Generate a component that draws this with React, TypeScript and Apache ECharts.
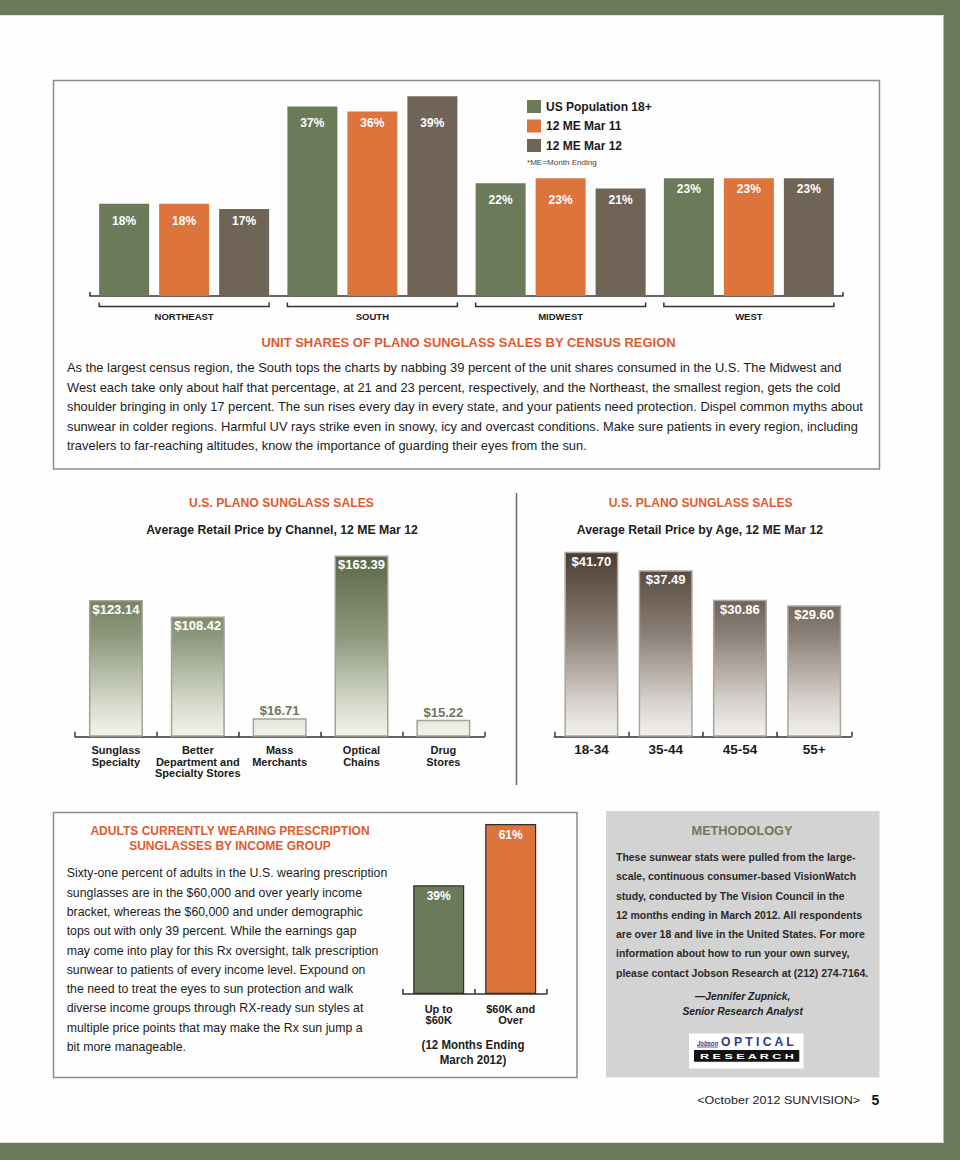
import React, { useEffect, useRef } from 'react';
import * as echarts from 'echarts';

// ---------- DATA ----------
const regions = ['NORTHEAST', 'SOUTH', 'MIDWEST', 'WEST'];
const seriesNames = ['US Population 18+', '12 ME Mar 11', '12 ME Mar 12'];
const usPopulation = [18, 37, 22, 23];
const me11 = [18, 36, 23, 23];
const me12 = [17, 39, 21, 23];

const channels = ['Sunglass\nSpecialty', 'Better\nDepartment and\nSpecialty Stores', 'Mass\nMerchants', 'Optical\nChains', 'Drug\nStores'];
const channelPrices = [123.14, 108.42, 16.71, 163.39, 15.22];

const ageGroups = ['18-34', '35-44', '45-54', '55+'];
const agePrices = [41.7, 37.49, 30.86, 29.6];

const incomeGroups = ['Up to\n$60K', '$60K and\nOver'];
const incomeShares = [39, 61];

const topTitle = 'UNIT SHARES OF PLANO SUNGLASS SALES BY CENSUS REGION';
const topParagraph = [
  'As the largest census region, the South tops the charts by nabbing 39 percent of the unit shares consumed in the U.S. The Midwest and',
  'West each take only about half that percentage, at 21 and 23 percent, respectively, and the Northeast, the smallest region, gets the cold',
  'shoulder bringing in only 17 percent. The sun rises every day in every state, and your patients need protection. Dispel common myths about',
  'sunwear in colder regions. Harmful UV rays strike even in snowy, icy and overcast conditions. Make sure patients in every region, including',
  'travelers to far-reaching altitudes, know the importance of guarding their eyes from the sun.',
];
const incomeTitle = ['ADULTS CURRENTLY WEARING PRESCRIPTION', 'SUNGLASSES BY INCOME GROUP'];
const incomeParagraph = [
  'Sixty-one percent of adults in the U.S. wearing prescription',
  'sunglasses are in the $60,000 and over yearly income',
  'bracket, whereas the $60,000 and under demographic',
  'tops out with only 39 percent. While the earnings gap',
  'may come into play for this Rx oversight, talk prescription',
  'sunwear to patients of every income level. Expound on',
  'the need to treat the eyes to sun protection and walk',
  'diverse income groups through RX-ready sun styles at',
  'multiple price points that may make the Rx sun jump a',
  'bit more manageable.',
];
const methodologyParagraph = [
  'These sunwear stats were pulled from the large-',
  'scale, continuous consumer-based VisionWatch',
  'study, conducted by The Vision Council in the',
  '12 months ending in March 2012. All respondents',
  'are over 18 and live in the United States. For more',
  'information about how to run your own survey,',
  'please contact Jobson Research at (212) 274-7164.',
];

// ---------- STYLE ----------
const FONT = '"Liberation Sans", Arial, Helvetica, sans-serif';
const GREEN = '#6b7a58';
const ORANGE = '#dc743c';
const BROWN = '#6f6456';
const TITLE = '#e05a30';
const INK = '#1c1c1c';
const FRAME = '#6b795a';

let measureCtx: CanvasRenderingContext2D | null = null;
function measure(text: string, font: string) {
  if (!measureCtx) measureCtx = document.createElement('canvas').getContext('2d');
  if (!measureCtx) return 0;
  measureCtx.font = font;
  return measureCtx.measureText(text).width;
}

type TxtOpt = {
  text: string | string[];
  x: number;
  y: number; // centre of first line
  size: number;
  weight?: string;
  italic?: boolean;
  color?: string;
  align?: 'left' | 'center' | 'right';
  lineHeight?: number;
  fit?: number; // target width of line `fitLine`
  fitLine?: number;
};
function txt(o: TxtOpt) {
  const lines = Array.isArray(o.text) ? o.text : [o.text];
  const font = `${o.italic ? 'italic' : 'normal'} ${o.weight || 'normal'} ${o.size}px ${FONT}`;
  let sx = 1;
  if (o.fit) {
    const w = measure(lines[o.fitLine || 0], font);
    if (w > 0) sx = o.fit / w;
  }
  const lh = o.lineHeight || Math.round(o.size * 1.3);
  const align = o.align || 'left';
  return {
    type: 'text',
    x: o.x,
    y: o.y - lh / 2,
    scaleX: sx,
    z: 10,
    silent: true,
    style: {
      text: lines.join('\n'),
      font,
      fill: o.color || INK,
      textAlign: align,
      align,
      textVerticalAlign: 'top',
      verticalAlign: 'top',
      lineHeight: lh,
    },
  };
}

function rect(x: number, y: number, w: number, h: number, style: any, z = -10) {
  return { type: 'rect', z, silent: true, shape: { x, y, width: w, height: h }, style };
}
function line(x1: number, y1: number, x2: number, y2: number, stroke = '#333', lw = 1.5, z = 5) {
  return { type: 'line', z, silent: true, shape: { x1, y1, x2, y2 }, style: { stroke, lineWidth: lw } };
}

// layout
const TOP = { left: 90, width: 753, top: 91, height: 205, max: 40 };
const CH = { left: 75, width: 409.3, top: 537, height: 199.7, max: 180 };
const AGE = { left: 554.3, width: 297, top: 537, height: 199.7, max: 45 };
const INC = { left: 402.7, width: 144, top: 799, height: 195, max: 70 };
const TOP_BAR = 50;
const TOP_GAP = 10;

function baseGraphics() {
  const g: any[] = [];
  g.push(rect(0, 0, 960, 1160, { fill: FRAME }, -30));
  g.push(rect(0, 15, 943.5, 1128, { fill: '#fefefe' }, -29));
  g.push(line(0, 15.5, 943.5, 15.5, '#dfe4d2', 1, -28));
  g.push(line(0, 1142.5, 943.5, 1142.5, '#dfe4d2', 1, -28));
  // boxes
  g.push(rect(53.5, 80.5, 826, 388.5, { fill: 'none', stroke: '#8c8c8c', lineWidth: 1.5 }));
  g.push(rect(53.5, 812.5, 523.5, 265, { fill: 'none', stroke: '#8c8c8c', lineWidth: 1.5 }));
  g.push(rect(606, 811, 273.5, 266.5, { fill: '#d3d3d3' }));
  g.push(line(516.5, 493, 516.5, 785, '#6a6a6a', 1.5));
  // top chart axis end ticks
  g.push(line(TOP.left, TOP.top + TOP.height - 4, TOP.left, TOP.top + TOP.height, '#333', 1.5));
  g.push(line(TOP.left + TOP.width, TOP.top + TOP.height - 4, TOP.left + TOP.width, TOP.top + TOP.height, '#333', 1.5));

  // top section texts
  g.push(txt({ text: '*ME=Month Ending', x: 527, y: 163, size: 8, color: '#444', fit: 70 }));
  g.push(txt({ text: topTitle, x: 468.5, y: 342, size: 13, weight: 'bold', color: TITLE, align: 'center', fit: 415 }));
  g.push(txt({ text: topParagraph, x: 67, y: 368.5, size: 12.5, lineHeight: 19.5, color: INK, fit: 775 }));

  // middle section
  g.push(txt({ text: 'U.S. PLANO SUNGLASS SALES', x: 281.5, y: 503, size: 13, weight: 'bold', color: TITLE, align: 'center', fit: 185 }));
  g.push(txt({ text: 'Average Retail Price by Channel, 12 ME Mar 12', x: 282, y: 530, size: 12, weight: 'bold', color: INK, align: 'center', fit: 272 }));
  g.push(txt({ text: 'U.S. PLANO SUNGLASS SALES', x: 700.7, y: 503, size: 13, weight: 'bold', color: TITLE, align: 'center', fit: 184 }));
  g.push(txt({ text: 'Average Retail Price by Age, 12 ME Mar 12', x: 700, y: 530, size: 12, weight: 'bold', color: INK, align: 'center', fit: 247 }));

  // income section
  g.push(txt({ text: incomeTitle, x: 230, y: 830.5, size: 13, weight: 'bold', color: TITLE, align: 'center', lineHeight: 15.5, fit: 280 }));
  g.push(txt({ text: incomeParagraph, x: 66.7, y: 873.3, size: 12.5, lineHeight: 19.3, color: INK, fit: 321 }));
  g.push(txt({ text: ['(12 Months Ending', 'March 2012)'], x: 473, y: 1045, size: 12.5, weight: 'bold', color: INK, align: 'center', lineHeight: 14.5, fit: 103 }));

  // methodology
  g.push(txt({ text: 'METHODOLOGY', x: 742, y: 830, size: 13, weight: 'bold', color: '#6c7958', align: 'center', fit: 101 }));
  g.push(txt({ text: methodologyParagraph, x: 616, y: 857.7, size: 10.5, weight: 'bold', lineHeight: 19.25, color: '#2a2a2a', fit: 240 }));
  g.push(txt({ text: ['\u2014Jennifer Zupnick,', 'Senior Research Analyst'], x: 742.7, y: 996.7, size: 10.5, weight: 'bold', italic: true, color: '#222', align: 'center', lineHeight: 14.3, fit: 121, fitLine: 1 }));

  // logo
  g.push(rect(689, 1033.5, 114.5, 35, { fill: '#ffffff' }, -5));
  g.push(txt({ text: 'Jobson', x: 697, y: 1043, size: 7, weight: 'bold', italic: true, color: '#2b3990', fit: 21 }));
  g.push(line(697, 1047, 718, 1047, '#2b3990', 0.8, 10));
  g.push(txt({ text: 'O P T I C A L', x: 721, y: 1042.3, size: 12, weight: 'bold', color: '#2b3990', fit: 74 }));
  g.push(rect(694, 1050, 105.3, 11.7, { fill: '#141414' }, -4));
  g.push(txt({ text: 'R E S E A R C H', x: 700, y: 1056, size: 8, weight: 'bold', color: '#ffffff', fit: 95 }));

  // footer
  g.push(txt({ text: '<October 2012 SUNVISION>', x: 697.3, y: 1100, size: 10.5, color: '#222', fit: 163 }));
  g.push(txt({ text: '5', x: 871.5, y: 1099.5, size: 14, weight: 'bold', color: '#111' }));
  return g;
}

function App() {
  const ref = useRef<HTMLDivElement>(null);

  useEffect(() => {
    if (!ref.current) return;
    const chart = echarts.init(ref.current, null, { renderer: 'svg' });
    const topPx = TOP.height / TOP.max;
    const topSets = [usPopulation, me11, me12];
    const topColors = [GREEN, ORANGE, BROWN];

    const axisLine = { show: true, lineStyle: { color: '#333', width: 1.5 } };
    const hidY = { type: 'value', min: 0, show: false, splitLine: { show: false } };

    const chGrad = {
      type: 'linear', x: 0, y: CH.top + CH.height - (channelPrices.reduce((a, b) => Math.max(a, b), 0) / CH.max) * CH.height, x2: 0, y2: CH.top + CH.height, global: true,
      colorStops: [
        { offset: 0, color: '#5a6847' },
        { offset: 0.45, color: '#8e987c' },
        { offset: 0.8, color: '#d3d7c8' },
        { offset: 1, color: '#f4f4ee' },
      ],
    };
    const ageGrad = {
      type: 'linear', x: 0, y: AGE.top + AGE.height - (agePrices.reduce((a, b) => Math.max(a, b), 0) / AGE.max) * AGE.height, x2: 0, y2: AGE.top + AGE.height, global: true,
      colorStops: [
        { offset: 0, color: '#4a3c31' },
        { offset: 0.45, color: '#8b8077' },
        { offset: 0.8, color: '#d5d0cb' },
        { offset: 1, color: '#f4f2f0' },
      ],
    };

    const option: any = {
      animation: false,
      textStyle: { fontFamily: FONT },
      legend: {
        data: seriesNames,
        orient: 'vertical',
        left: 527,
        top: 100,
        itemWidth: 14,
        itemHeight: 13,
        itemGap: 6.5,
        icon: 'rect',
        padding: 0,
        selectedMode: false,
        textStyle: { fontSize: 12, fontWeight: 'bold', color: '#1a1a1a', fontFamily: FONT },
      },
      grid: [
        { left: TOP.left, top: TOP.top, width: TOP.width, height: TOP.height },
        { left: CH.left, top: CH.top, width: CH.width, height: CH.height },
        { left: AGE.left, top: AGE.top, width: AGE.width, height: AGE.height },
        { left: INC.left, top: INC.top, width: INC.width, height: INC.height },
      ],
      xAxis: [
        {
          gridIndex: 0, type: 'category', data: regions, axisLine, axisTick: { show: false },
          axisLabel: { interval: 0, margin: 15, fontSize: 9.5, fontWeight: 'bold', color: '#1a1a1a' },
        },
        {
          gridIndex: 1, type: 'category', data: channels, axisLine,
          axisTick: { show: true, inside: true, length: 5, lineStyle: { color: '#333', width: 1.5 } },
          axisLabel: { interval: 0, margin: 8, fontSize: 11, lineHeight: 11.5, fontWeight: 'bold', color: '#1a1a1a' },
        },
        {
          gridIndex: 2, type: 'category', data: ageGroups, axisLine,
          axisTick: { show: true, inside: true, length: 5, lineStyle: { color: '#333', width: 1.5 } },
          axisLabel: { interval: 0, margin: 6, fontSize: 13.5, fontWeight: 'bold', color: '#1a1a1a' },
        },
        {
          gridIndex: 3, type: 'category', data: incomeGroups, axisLine,
          axisTick: { show: true, inside: true, length: 5, lineStyle: { color: '#333', width: 1.5 } },
          axisLabel: { interval: 0, margin: 9, fontSize: 11, lineHeight: 11, fontWeight: 'bold', color: '#1a1a1a' },
        },
      ],
      yAxis: [
        { ...hidY, gridIndex: 0, max: TOP.max },
        { ...hidY, gridIndex: 1, max: CH.max },
        { ...hidY, gridIndex: 2, max: AGE.max },
        { ...hidY, gridIndex: 3, max: INC.max },
      ],
      series: [
        ...topSets.map((vals, s) => ({
          type: 'bar',
          name: seriesNames[s],
          xAxisIndex: 0,
          yAxisIndex: 0,
          barWidth: TOP_BAR,
          barGap: `${(TOP_GAP / TOP_BAR) * 100}%`,
          itemStyle: { color: topColors[s] },
          label: { show: true, position: 'insideTop', color: '#fff', fontWeight: 'bold', fontSize: 12, formatter: '{c}%' },
          data: vals.map((v, g) => ({
            value: v,
            label: { distance: g === 3 ? 5 : 11, offset: [0, (v - usPopulation[g]) * topPx] },
          })),
        })),
        {
          type: 'bar',
          xAxisIndex: 1,
          yAxisIndex: 1,
          barWidth: 54,
          itemStyle: { color: chGrad, borderColor: '#a3a398', borderWidth: 1.5 },
          label: {
            show: true, position: 'insideTop', distance: 3, color: '#fff', fontWeight: 'bold', fontSize: 13,
            formatter: (p: any) => '$' + p.value.toFixed(2),
          },
          data: channelPrices.map((v) => (v < 30
            ? { value: v, label: { position: 'top', distance: 1, color: '#70755f' } }
            : { value: v })),
        },
        {
          type: 'bar',
          xAxisIndex: 2,
          yAxisIndex: 2,
          barWidth: 54,
          itemStyle: { color: ageGrad, borderColor: '#aaa59e', borderWidth: 1.5 },
          label: {
            show: true, position: 'insideTop', distance: 3, color: '#fff', fontWeight: 'bold', fontSize: 13,
            formatter: (p: any) => '$' + p.value.toFixed(2),
          },
          data: agePrices,
        },
        {
          type: 'bar',
          xAxisIndex: 3,
          yAxisIndex: 3,
          barWidth: 51,
          itemStyle: {
            color: (p: any) => [GREEN, ORANGE][p.dataIndex % 2],
            borderColor: '#2e2e2e',
            borderWidth: 1.2,
          },
          label: { show: true, position: 'insideTop', distance: 4.5, color: '#fff', fontWeight: 'bold', fontSize: 12, formatter: '{c}%' },
          data: incomeShares,
        },
      ],
      graphic: baseGraphics(),
    };

    chart.setOption(option);

    // group brackets under the census-region chart, positioned through the category axis
    const half = (TOP_BAR * 3 + TOP_GAP * 2) / 2;
    const baseY = TOP.top + TOP.height;
    const brackets = regions.map((r) => {
      const cx = chart.convertToPixel({ xAxisIndex: 0 }, r) as unknown as number;
      return {
        type: 'polyline',
        z: 5,
        silent: true,
        shape: { points: [[cx - half, baseY + 6.5], [cx - half, baseY + 10.5], [cx + half, baseY + 10.5], [cx + half, baseY + 6.5]] },
        style: { stroke: '#333', lineWidth: 1.5, fill: 'none' },
      };
    });
    chart.setOption({ graphic: [...baseGraphics(), ...brackets] }, { replaceMerge: ['graphic'] });

    return () => chart.dispose();
  }, []);

  return <div ref={ref} style={{ position: 'absolute', left: 0, top: 0, width: 960, height: 1160 }} />;
}

export default App;
